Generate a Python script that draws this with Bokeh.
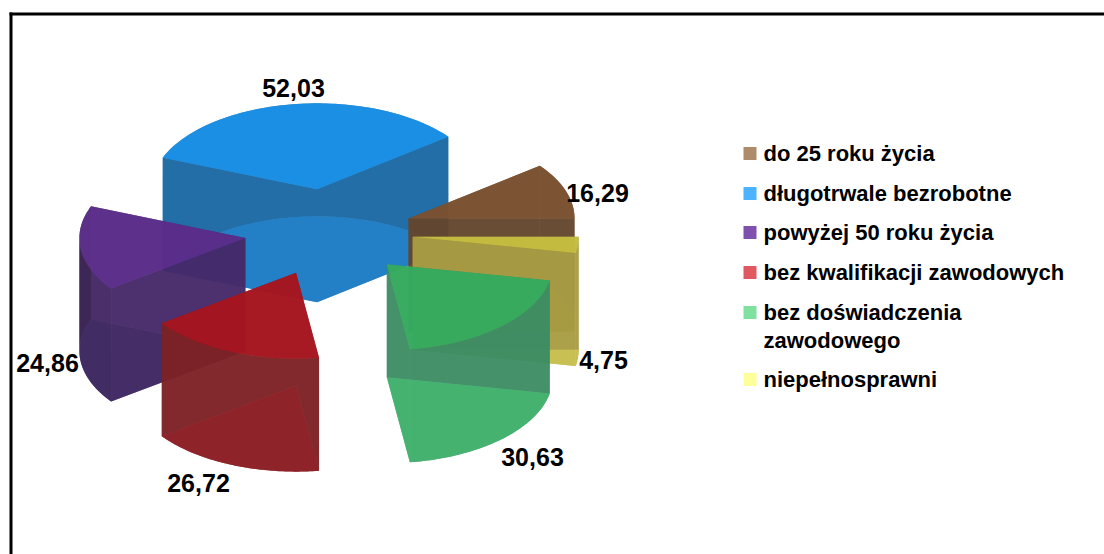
import numpy as np
from bokeh.plotting import figure
from bokeh.models import Range1d, ColumnDataSource
from bokeh.core.properties import value
from bokeh.embed import file_html
from bokeh.resources import INLINE

categories = ["do 25 roku życia", "długotrwale bezrobotne", "powyżej 50 roku życia",
              "bez kwalifikacji zawodowych", "bez doświadczenia\nzawodowego", "niepełnosprawni"]
values = [16.29, 52.03, 24.86, 26.72, 30.63, 4.75]
labels = ["16,29", "52,03", "24,86", "26,72", "30,63", "4,75"]

legend_colors = ["#ae8b6b", "#4db3ff", "#8050ae", "#e05860", "#80e0a0", "#ffff99"]
top_colors = ["#7c5230", "#1690e8", "#5c2c8c", "#a8141e", "#34ad5e", "#c8c040"]
wall_colors = ["#64462d", "#1a68a2", "#462868", "#7d2026", "#3c8c64", "#a89e44"]
arc_colors = ["#64462d", "#1a68a2", "#341e50", "#7d2026", "#3c8c64", "#a89e44"]
base_colors = ["#7c5230", "#1a7ecb", "#3c2460", "#8c1a20", "#3eb56c", "#ccc44e"]

CX, CY, A, B, DEPTH, EXPLODE = 328.4, 232.0, 166.0, 86.0, 113.0, 0.507
draw_order = [1, 2, 3, 0, 5, 4]
label_pos = [(597, 192), (293, 87), (47, 362), (198, 482), (532, 456), (603, 359)]
legend_rows = [153, 193, 232, 272, 312, 379]

fr = np.cumsum([0] + values) / sum(values) * 2 * np.pi

xs, ys, fills, alphas = [], [], [], []


def add(px, py, col, al):
    xs.append(list(np.round(px, 2)))
    ys.append(list(np.round(py, 2)))
    fills.append(col)
    alphas.append(al)


for i in draw_order:
    t0, t1 = fr[i], fr[i + 1]
    mid = (t0 + t1) / 2
    ax = CX + EXPLODE * A * np.cos(mid)
    ay = CY - EXPLODE * B * np.sin(mid)
    t = np.linspace(t0, t1, 80)
    ex = ax + A * np.cos(t)
    ey = ay - B * np.sin(t)
    # outer curved wall, split where the ellipse turns back horizontally
    parts = [(t0, t1)] if not (t0 < np.pi < t1) else [(t0, np.pi), (np.pi, t1)]
    for a0, a1 in parts:
        u = np.linspace(a0, a1, 60)
        ux = ax + A * np.cos(u)
        uy = ay - B * np.sin(u)
        add(np.r_[ux, ux[::-1]], np.r_[uy, uy[::-1] + DEPTH], arc_colors[i], 0.8)
    # straight walls
    for k in (0, -1):
        add(np.array([ax, ex[k], ex[k], ax]),
            np.array([ay, ey[k], ey[k] + DEPTH, ay + DEPTH]), wall_colors[i], 0.8)
    # bottom sector, seen through the walls
    add(np.r_[ax, ex], np.r_[ay, ey] + DEPTH, base_colors[i], 0.8)
    # top sector
    add(np.r_[ax, ex], np.r_[ay, ey], top_colors[i], 0.9)

p = figure(width=1104, height=554, output_backend="svg", toolbar_location=None,
           x_range=Range1d(0, 1104), y_range=Range1d(554, 0), min_border=0,
           outline_line_color=None, background_fill_color="white", border_fill_color="white")
p.xaxis.visible = False
p.yaxis.visible = False
p.xgrid.visible = False
p.ygrid.visible = False

p.patches("xs", "ys", source=ColumnDataSource(dict(xs=xs, ys=ys, fill=fills, alpha=alphas)),
          fill_color="fill", fill_alpha="alpha", line_color=None)

# chart frame, cut off by the right and bottom page edge
p.segment(x0=[10.5, 9], y0=[12, 13.5], x1=[10.5, 1104], y1=[554, 13.5], line_color="black", line_width=3)

p.text(x=[q[0] for q in label_pos], y=[q[1] for q in label_pos], text=labels,
       text_font=value("Liberation Sans"), text_font_style="bold", text_font_size="25px",
       text_align="center", text_baseline="middle", text_color="black")

p.scatter(x=[749.5] * 6, y=legend_rows, marker="square", size=13, fill_color=legend_colors, line_color=None)

lx, ly, lt = [], [], []
for c, y in zip(categories, legend_rows):
    for j, part in enumerate(c.split("\n")):
        lx.append(763)
        ly.append(y + j * 28)
        lt.append(part)
p.text(x=lx, y=ly, text=lt, text_font=value("Liberation Sans"), text_font_style="bold",
       text_font_size="22px", text_align="left", text_baseline="middle", text_color="black")

open("out.html", "w").write(file_html(p, INLINE))
